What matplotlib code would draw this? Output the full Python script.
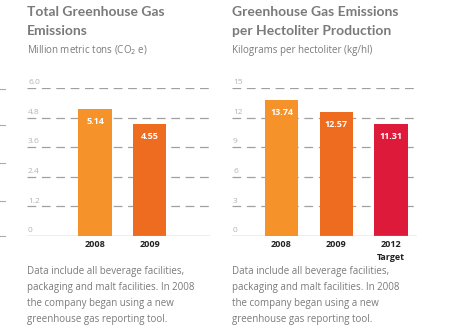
import matplotlib
matplotlib.use("Agg")
import matplotlib.pyplot as plt
from matplotlib.lines import Line2D

plt.rcParams["font.family"] = ["Open Sans", "DejaVu Sans"]

# data
years_left = ["2008", "2009"]
total_emissions = [5.14, 4.55]
left_ticks = [0, 1.2, 2.4, 3.6, 4.8, 6.0]
left_tick_labels = ["0", "1.2", "2.4", "3.6", "4.8", "6.0"]

years_right = ["2008", "2009", "2012"]
per_hl = [13.74, 12.57, 11.31]
right_ticks = [0, 3, 6, 9, 12, 15]
right_tick_labels = ["0", "3", "6", "9", "12", "15"]

note = ("Data include all beverage facilities,\n"
        "packaging and malt facilities. In 2008\n"
        "the company began using a new\n"
        "greenhouse gas reporting tool.")

C_2008 = "#F5922A"
C_2009 = "#EE6C1F"
C_2012 = "#DE1A3A"
GREY = "#7a7a7a"
GRID = "#a0a0a0"

W, H = 460, 331
fig = plt.figure(figsize=(W / 100, H / 100), dpi=100)


def fx(px):
    return px / W


def fy(py):
    return 1 - py / H


def panel(x0, x1, vals, cats, colors, ticks, labels, xlim, width, fmt):
    ax = fig.add_axes([fx(x0), fy(236), fx(x1 - x0), (236 - 88) / H])
    ax.set_xlim(*xlim)
    ax.set_ylim(ticks[0], ticks[-1])
    for t, lab in zip(ticks, labels):
        if t != 0:
            ax.axhline(t, color=GRID, lw=0.9, ls=(0, (7, 4.5)), zorder=1)
        ax.text(0.006, t + (ticks[-1]) * 0.012, lab, transform=ax.get_yaxis_transform(),
                fontsize=6, color="#b4b4b4", va="bottom", ha="left")
    ax.axhline(0, color="#aaaaaa", lw=1.0, zorder=3)
    xs = range(len(vals))
    ax.bar(xs, vals, width=width, color=colors, zorder=2)
    for x, v in zip(xs, vals):
        ax.annotate(fmt.format(v), (x, v), xytext=(0, -9), textcoords="offset points",
                    ha="center", va="center", color="white", fontsize=6.5,
                    fontweight="bold")
        ax.annotate(cats[x], (x, 0), xytext=(0, -6), textcoords="offset points",
                    ha="center", va="center", color="#222222", fontsize=6.5,
                    fontweight="bold", annotation_clip=False)
    ax.axis("off")
    return ax


panel(27, 210, total_emissions, years_left, [C_2008, C_2009],
      left_ticks, left_tick_labels, (-1.248, 2.11), 0.62, "{:.2f}")
axr = panel(232, 417, per_hl, years_right, [C_2008, C_2009, C_2012],
            right_ticks, right_tick_labels, (-0.904, 2.475), 0.61, "{:.2f}")
axr.annotate("Target", (2, 0), xytext=(0, -15.5), textcoords="offset points",
             ha="center", va="center", color="#222222", fontsize=6.5,
             fontweight="bold", annotation_clip=False)

# titles
title_font = dict(fontsize=10, fontweight="bold", color=GREY, va="center",
                  family=["Lato", "DejaVu Sans"])
fig.text(fx(27), fy(12), "Total Greenhouse Gas", **title_font)
fig.text(fx(27), fy(31), "Emissions", **title_font)
fig.text(fx(27), fy(50), "Million metric tons (CO$_2$ e)", fontsize=7,
         color=GREY, va="center")
fig.text(fx(232), fy(12), "Greenhouse Gas Emissions", **title_font)
fig.text(fx(232), fy(31), "per Hectoliter Production", **title_font)
fig.text(fx(232), fy(50), "Kilograms per hectoliter (kg/hl)", fontsize=7,
         color=GREY, va="center")

# footnotes
for x in (27, 232):
    fig.text(fx(x), fy(266), note, fontsize=7, color=GREY, va="top",
             linespacing=1.62)

# edge marks from the neighbouring panel
for y in (89, 125, 163, 201, 236):
    fig.add_artist(Line2D([0, fx(5)], [fy(y), fy(y)], color="#aaaaaa", lw=0.8))

fig.savefig("out.png", dpi=100)
